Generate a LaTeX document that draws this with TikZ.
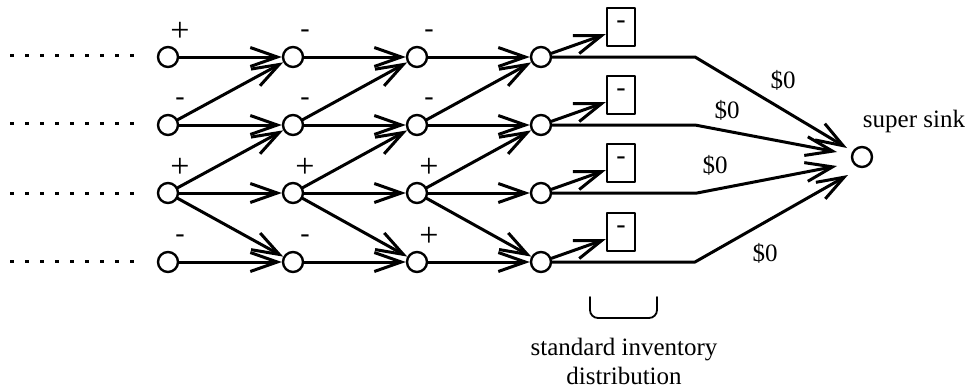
\documentclass[tikz,border=0pt]{standalone}
\usepackage{fontspec}
\setmainfont{Liberation Serif}
\usetikzlibrary{arrows.meta}
\begin{document}
\begin{tikzpicture}[x=1pt,y=-1pt,line cap=round,line join=round,
  vert/.style={circle,draw,line width=2.4pt,minimum size=20pt,inner sep=0pt},
  arr/.style={line width=3pt,-{Straight Barb[length=27pt,width=19pt]}},
  dots/.style={line width=3pt,line cap=butt,dash pattern=on 4pt off 11pt},
  plus/.style={font=\fontsize{34}{34}\selectfont,inner sep=0pt},
  minus/.style={font=\fontsize{28}{28}\selectfont,inner sep=0pt},
  lbl/.style={font=\fontsize{25}{29}\selectfont,inner sep=0pt},
  invbox/.style={draw,line width=2.4pt,minimum width=28pt,minimum height=38pt,inner sep=0pt,font=\fontsize{28}{28}\selectfont}
]
\useasboundingbox (0,0) rectangle (974,391);
% vertices
\foreach \c/\x in {1/168,2/293,3/417,4/541}{
  \foreach \r/\y in {1/57,2/125,3/193,4/262}{
    \node[vert] (c\c\r) at (\x,\y) {};
  }
}
\node[vert] (sink) at (862,157) {};
% signs
\foreach \c/\r in {1/1,1/3,2/3,3/3,3/4}{
  \node[plus] (s\c\r) at ([xshift=12pt,yshift=25pt]c\c\r.center) {+};
}
\foreach \c/\r in {1/2,1/4,2/1,2/2,2/4,3/1,3/2}{
  \node[minus] (s\c\r) at ([xshift=12pt,yshift=23pt]c\c\r.center) {-};
}
% dotted lines
\foreach \r/\y in {1/55,2/123,3/193,4/261}{
  \coordinate (d\r) at (10,\y);
  \coordinate (e\r) at (134,\y);
  \draw[dots] (d\r) -- (e\r);
}
% edges between columns
\foreach \a/\b in {1/2,2/3,3/4}{
  \draw[arr] (c\a1) -- (c\b1);
  \draw[arr] (c\a2) -- (c\b1);
  \draw[arr] (c\a2) -- (c\b2);
  \draw[arr] (c\a3) -- (c\b2);
  \draw[arr] (c\a3) -- (c\b3);
  \draw[arr] (c\a3) -- (c\b4);
  \draw[arr] (c\a4) -- (c\b4);
}
% inventory boxes
\foreach \r/\y in {1/57,2/125,3/193,4/262}{
  \node[invbox] (b\r) at (621,\y-30) {\raisebox{5pt}{-}};
  \draw[arr] (c4\r) -- (b\r.205);
}
% to super sink
\coordinate (k1) at (695,57);
\coordinate (k2) at (695,125);
\coordinate (k3) at (697,193);
\coordinate (k4) at (695,262);
\coordinate (t1) at (847,148);
\coordinate (t2) at (837,152);
\coordinate (t3) at (837,166);
\coordinate (t4) at (848,175);
\foreach \r in {1,2,3,4}{
  \draw[arr] (c4\r) -- (k\r) -- (t\r);
}
\node[lbl] (z1) at (783,80) {\$0};
\node[lbl] (z2) at (727,110) {\$0};
\node[lbl] (z3) at (715,165) {\$0};
\node[lbl] (z4) at (765,253) {\$0};
\node[lbl,anchor=base] (ss) at (914,127) {super sink};
% brace and caption
\draw[line width=1.8pt,rounded corners=8pt] (590,297) -- (590,318) -- (657,318) -- (657,297);
\node[lbl,align=center] (sid) at (624,361) {standard inventory\\distribution};
\end{tikzpicture}
\end{document}
